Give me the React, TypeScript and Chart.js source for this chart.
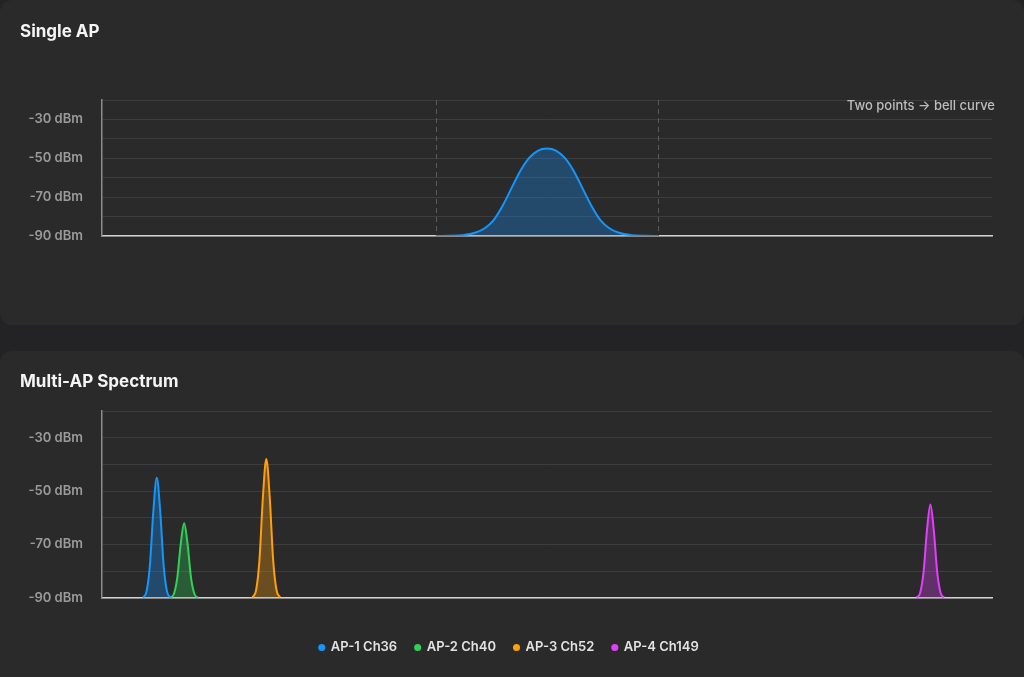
import React, { useEffect, useRef } from 'react';
import { Chart, registerables } from 'chart.js';

Chart.register(...registerables);

// Single AP: bell curve between the two edge points
const singleX = [37.5, 39, 40.5, 42, 43, 44, 45, 46, 47, 48, 49, 50, 51, 52, 53, 54, 55, 56, 57, 58, 59.5, 61, 62.5];
const singleDbm = [-90, -89.9, -89.6, -88.2, -86.0, -81.8, -74.5, -65.5, -56.5, -49.8, -46.0, -45, -46.0, -49.8, -56.5, -65.5, -74.5, -81.8, -86.0, -88.2, -89.6, -89.9, -90];
const singleEdges = [37.5, 62.5];

// Multi-AP spectrum (x = channel number)
const apLabels = ['AP-1 Ch36', 'AP-2 Ch40', 'AP-3 Ch52', 'AP-4 Ch149'];
const apChannels = [36, 40, 52, 149];
const apColors = ['#1496ff', '#30d158', '#ff9f0a', '#e040fb'];
const apFills = ['rgba(20,150,255,0.3)', 'rgba(48,209,88,0.3)', 'rgba(255,159,10,0.3)', 'rgba(224,64,251,0.3)'];
const peakOffsets = [-2, -1.5, -1, -0.5, 0, 0.5, 1, 1.5, 2];
const ap1Dbm = [-89.8, -87.6, -77.7, -57.5, -45, -57.5, -77.7, -87.6, -89.8];
const ap2Dbm = [-89.85, -88.5, -82.4, -69.8, -62, -69.8, -82.4, -88.5, -89.85];
const ap3Dbm = [-89.7, -87.2, -75.8, -52.4, -38, -52.4, -75.8, -87.2, -89.7];
const ap4Dbm = [-89.8, -88.1, -80.4, -64.7, -55, -64.7, -80.4, -88.1, -89.8];
const apDbm = [ap1Dbm, ap2Dbm, ap3Dbm, ap4Dbm];

const yTicks = [-90, -70, -50, -30];

const FONT = 'Inter, "Noto Sans", sans-serif';

const yAxis = (width: number) => ({
  min: -90,
  max: -20,
  afterFit: (s: any) => {
    s.width = width;
  },
  ticks: {
    stepSize: 10,
    padding: 19,
    color: '#9b9b9b',
    font: { size: 13, weight: 600, family: FONT },
    callback: (v: any) => (yTicks.includes(Number(v)) ? `${v} dBm` : ''),
  },
  grid: { color: '#3d3d3d', drawTicks: false, lineWidth: 1 },
  border: { display: true, color: '#8c8c8c', width: 1.5 },
});

const edgeLines = {
  id: 'edgeLines',
  beforeDatasetsDraw(chart: any) {
    const { ctx, chartArea, scales } = chart;
    ctx.save();
    ctx.strokeStyle = '#5c5c5c';
    ctx.lineWidth = 1;
    ctx.setLineDash([5, 4]);
    singleEdges.forEach((v) => {
      const x = Math.round(scales.x.getPixelForValue(v)) + 0.5;
      ctx.beginPath();
      ctx.moveTo(x, chartArea.top);
      ctx.lineTo(x, chartArea.bottom);
      ctx.stroke();
    });
    ctx.restore();
  },
};

const SingleChart: React.FC = () => {
  const ref = useRef<HTMLCanvasElement | null>(null);
  useEffect(() => {
    if (!ref.current) return;
    const chart = new Chart(ref.current, {
      type: 'line',
      data: {
        datasets: [
          {
            label: 'Single AP',
            data: singleX.map((x, i) => ({ x, y: singleDbm[i] })),
            borderColor: apColors[0],
            backgroundColor: apFills[0],
            borderWidth: 2,
            pointRadius: 0,
            fill: 'start',
            cubicInterpolationMode: 'monotone',
          },
        ],
      },
      options: {
        animation: false,
        responsive: true,
        maintainAspectRatio: false,
        layout: { padding: { top: 100, bottom: 89, left: 0, right: 32 } },
        plugins: { legend: { display: false }, tooltip: { enabled: false } },
        scales: {
          x: {
            type: 'linear',
            min: 0,
            max: 100,
            afterFit: (s: any) => {
              s.height = 0;
            },
            ticks: { display: false },
            grid: { display: false },
            border: { display: true, color: '#d2d2d2', width: 1.5 },
          },
          y: yAxis(102) as any,
        },
      },
      plugins: [edgeLines],
    });
    return () => chart.destroy();
  }, []);
  return <canvas ref={ref} />;
};

const MultiChart: React.FC = () => {
  const ref = useRef<HTMLCanvasElement | null>(null);
  useEffect(() => {
    if (!ref.current) return;
    const chart = new Chart(ref.current, {
      type: 'line',
      data: {
        datasets: apLabels.map((label, i) => ({
          label,
          data: peakOffsets.map((o, j) => ({ x: apChannels[i] + o, y: apDbm[i][j] })),
          borderColor: apColors[i],
          backgroundColor: apFills[i],
          borderWidth: 2,
          pointRadius: 0,
          fill: 'start',
          cubicInterpolationMode: 'monotone' as const,
        })),
      },
      options: {
        animation: false,
        responsive: true,
        maintainAspectRatio: false,
        // canvas starts 32px left of the card so the legend centres on the card
        layout: { padding: { top: 60, bottom: 17, left: 58, right: 32 } },
        plugins: {
          tooltip: { enabled: false },
          legend: {
            position: 'bottom',
            labels: {
              usePointStyle: true,
              pointStyle: 'circle',
              boxWidth: 5,
              boxHeight: 5,
              padding: 18,
              color: '#e2e2e2',
              font: { size: 13, weight: 600, family: FONT },
              generateLabels: (c: any) =>
                Chart.defaults.plugins.legend.labels
                  .generateLabels(c)
                  .map((l: any, i: number) => ({ ...l, fillStyle: apColors[i], strokeStyle: apColors[i], lineWidth: 0 })),
            },
          },
        },
        scales: {
          x: {
            type: 'linear',
            min: 28,
            max: 158,
            afterFit: (s: any) => {
              s.height = 25;
            },
            ticks: { display: false },
            grid: { display: false },
            border: { display: true, color: '#d2d2d2', width: 1.5 },
          },
          y: yAxis(76) as any,
        },
      },
    });
    return () => chart.destroy();
  }, []);
  return <canvas ref={ref} />;
};

const cardStyle: React.CSSProperties = {
  position: 'absolute',
  left: 0,
  width: 1024,
  background: '#2a2a2a',
  borderRadius: 12,
  overflow: 'hidden',
};

const titleStyle: React.CSSProperties = {
  position: 'absolute',
  left: 20,
  margin: 0,
  fontFamily: FONT,
  fontSize: 17,
  fontWeight: 700,
  lineHeight: '20px',
  color: '#f5f5f5',
};

export default function App() {
  useEffect(() => {
    document.body.style.margin = '0';
    document.body.style.background = '#232325';
    document.body.style.overflow = 'hidden';
    document.documentElement.style.overflow = 'hidden';
  }, []);

  return (
    <div style={{ position: 'relative', width: 1024, height: 677, overflow: 'hidden', background: '#232325' }}>
      <div style={{ ...cardStyle, top: 0, height: 325 }}>
        <div style={{ position: 'absolute', left: 0, top: 0, width: 1024, height: 325 }}>
          <SingleChart />
        </div>
        <div style={{ ...titleStyle, top: 21 }}>Single AP</div>
        <div
          style={{
            position: 'absolute',
            right: 29,
            top: 97,
            fontFamily: FONT,
            fontSize: 13,
            fontWeight: 500,
            lineHeight: '16px',
            color: '#bdbdbd',
          }}
        >
          Two points → bell curve
        </div>
      </div>
      <div style={{ ...cardStyle, top: 351, height: 340 }}>
        <div style={{ position: 'absolute', left: -32, top: 0, width: 1056, height: 330 }}>
          <MultiChart />
        </div>
        <div style={{ ...titleStyle, top: 20 }}>Multi-AP Spectrum</div>
      </div>
    </div>
  );
}
